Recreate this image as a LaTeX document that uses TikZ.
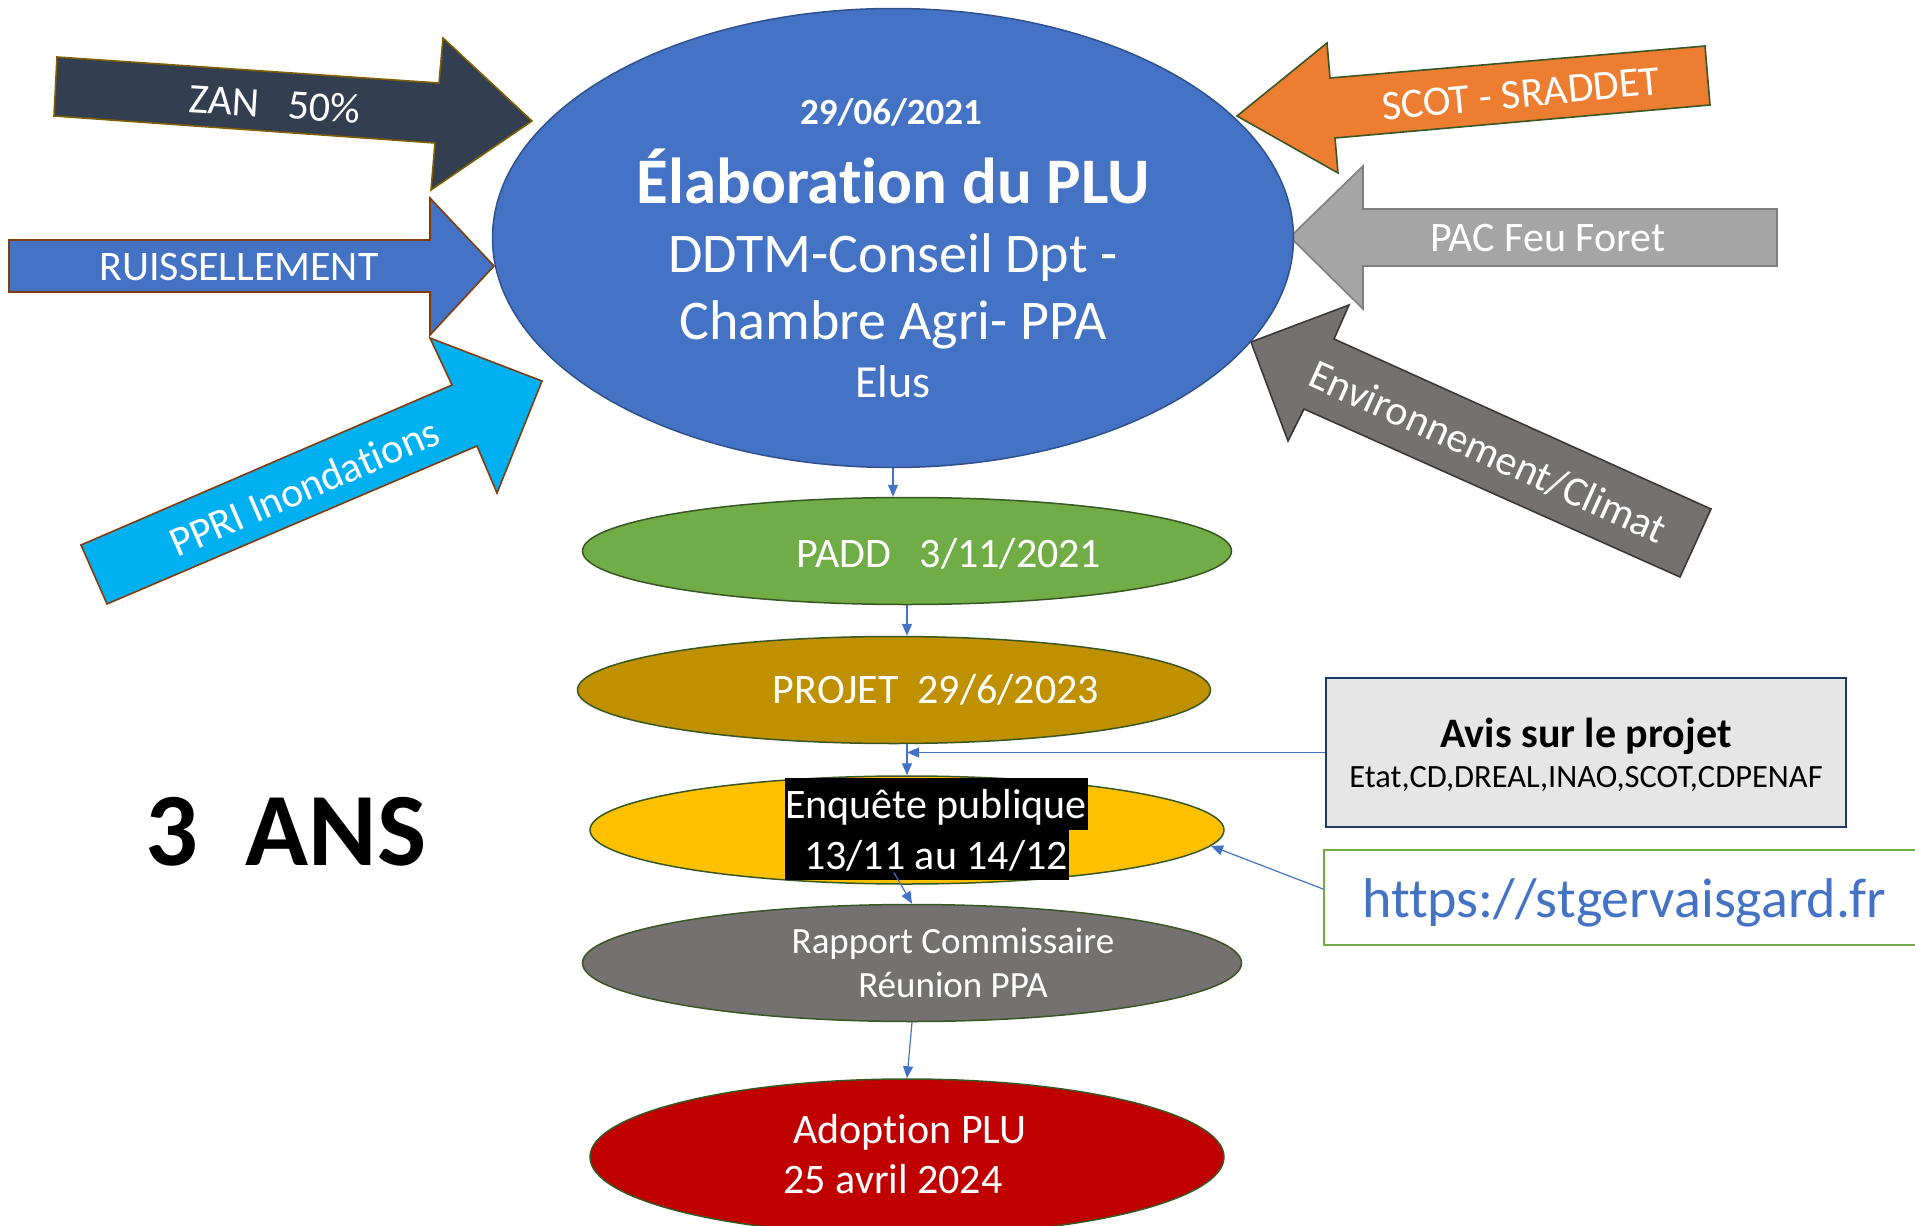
\documentclass[tikz,border=0pt]{standalone}
\usepackage{fontspec}
\setmainfont{Carlito}[Ligatures=NoCommon]
\usetikzlibrary{shapes.geometric, arrows.meta, positioning}

\definecolor{pluBlue}{HTML}{4472C4}
\definecolor{pluNavy}{HTML}{2F528F}
\definecolor{zanSlate}{HTML}{333F50}
\definecolor{zanEdge}{HTML}{7F6000}
\definecolor{rustEdge}{HTML}{843C0C}
\definecolor{ppriCyan}{HTML}{00B0F0}
\definecolor{scotOrange}{HTML}{ED7D31}
\definecolor{darkGreen}{HTML}{385723}
\definecolor{pacGrey}{HTML}{A5A5A5}
\definecolor{pacEdge}{HTML}{7F7F7F}
\definecolor{envGrey}{HTML}{767171}
\definecolor{envEdge}{HTML}{3B3838}
\definecolor{paddGreen}{HTML}{70AD47}
\definecolor{projGold}{HTML}{BF9000}
\definecolor{enqYellow}{HTML}{FFC000}
\definecolor{adoptRed}{HTML}{C00000}
\definecolor{avisGrey}{HTML}{E7E6E6}
\definecolor{avisEdge}{HTML}{1F3864}

\tikzset{
stage/.style={ellipse, draw=darkGreen, line width=1.5pt, inner sep=0pt}, % the phases of the PLU
link/.style={draw=pluBlue, line width=1.2pt, -{Triangle[length=12pt,width=10pt]}}, % thin blue connectors
block/.style={line width=1.6pt}, % the big arrows round the main ellipse
lbl/.style={text=white, inner sep=0pt},
f32/.style={font=\fontsize{32.5}{38}\selectfont},
f37/.style={font=\fontsize{37}{44}\selectfont},
f42/.style={font=\fontsize{42}{50}\selectfont},
}

\begin{document}
\begin{tikzpicture}[x=1pt, y=-1pt]
\useasboundingbox (0,0) rectangle (1915,1226);
\clip (0,0) rectangle (1915,1226);

% arrows coming in from the left
\filldraw[block, fill=zanSlate, draw=zanEdge] (57,57) -- (439,83) -- (443,38) -- (532,121) -- (431,190) -- (435,143) -- (54,116) -- cycle;
\filldraw[block, fill=pluBlue, draw=rustEdge] (9,240) -- (430,240) -- (430,198) -- (494,266) -- (430,335) -- (430,292) -- (9,292) -- cycle;
\filldraw[block, fill=ppriCyan, draw=rustEdge] (81,545) -- (452,385) -- (430,338) -- (542,381) -- (497,493) -- (477,446) -- (107,604) -- cycle;
\node[lbl, f42, rotate=-3.6] (zan) at (275,104) {ZAN\ \ \ 50\%};
\node[lbl, f42] (ruis) at (239,267) {RUISSELLEMENT};
\node[lbl, f42, rotate=23.5] (ppri) at (304,487) {PPRI Inondations};

% arrows coming in from the right
\filldraw[block, fill=scotOrange, draw=darkGreen] (1237,116) -- (1327,43) -- (1330,78) -- (1705,46) -- (1710,105) -- (1335,138) -- (1338,173) -- cycle;
\filldraw[block, fill=pacGrey, draw=pacEdge] (1290,237) -- (1363,166) -- (1363,209) -- (1777,209) -- (1777,266) -- (1363,266) -- (1363,309) -- cycle;
\filldraw[block, fill=envGrey, draw=envEdge] (1251,342) -- (1349,305) -- (1334,339) -- (1711,509) -- (1680,577) -- (1304,409) -- (1288,441) -- cycle;
\node[lbl, f42, rotate=5.5] (scot) at (1521,94) {SCOT - SRADDET};
\node[lbl, f42] (pac) at (1548,238) {PAC Feu Foret};
\node[lbl, f42, rotate=-24.3] (env) at (1488,452) {Environnement/Climat};

% main ellipse
\node[stage, fill=pluBlue, draw=pluNavy, minimum width=801pt, minimum height=459pt] (plu) at (893,238) {};
\node[lbl, anchor=base, font=\bfseries\fontsize{37}{44}\selectfont] (date) at (891,124) {29/06/2021};
\node[lbl, anchor=base, font=\bfseries\fontsize{65}{78}\selectfont] (titre) at (893,203) {Élaboration du PLU};
\node[lbl, anchor=base, font=\fontsize{56}{66}\selectfont] (ddtm) at (893,272) {DDTM-Conseil Dpt -};
\node[lbl, anchor=base, font=\fontsize{56}{66}\selectfont] (chambre) at (893,339) {Chambre Agri- PPA};
\node[lbl, anchor=base, font=\fontsize{46}{54}\selectfont] (elus) at (893,397) {Elus};

% phases
\node[stage, fill=paddGreen, minimum width=649pt, minimum height=107pt] (padd) at (907,551) {};
\node[stage, fill=projGold, minimum width=633pt, minimum height=107pt] (projet) at (894,690) {};
\node[stage, fill=enqYellow, minimum width=634pt, minimum height=108pt] (enq) at (907,830) {};
\node[stage, fill=envGrey, minimum width=659pt, minimum height=117pt] (rapport) at (912,963) {};
\node[stage, fill=adoptRed, minimum width=634pt, minimum height=156pt] (adopt) at (907,1157) {};

\node[lbl, f42, anchor=base] (paddtxt) at (949,567) {PADD\ \ \ 3/11/2021};
\node[lbl, f42, anchor=base] (projtxt) at (936,703) {PROJET\ \ 29/6/2023};
\fill[black] (785,778) rectangle (1088,830);
\fill[black] (785,830) rectangle (1069,880);
\node[lbl, f42, anchor=base] (enqa) at (936,818) {Enquête publique};
\node[lbl, f42, anchor=base] (enqb) at (936,869) {13/11 au 14/12};
\node[lbl, f37, anchor=base] (rapa) at (953,953) {Rapport Commissaire};
\node[lbl, f37, anchor=base] (rapb) at (953,997) {Réunion PPA};
\node[lbl, f42, anchor=base] (adopta) at (910,1143) {Adoption PLU};
\node[lbl, f42, anchor=base] (adoptb) at (893,1193) {25 avril 2024};

% boxes on the right
\node[draw=avisEdge, fill=avisGrey, line width=2pt, minimum width=520pt, minimum height=149pt] (avis) at (1586,752.5) {};
\node[anchor=base, font=\bfseries\fontsize{42}{50}\selectfont] (avisa) at (1586,747) {Avis sur le projet};
\node[anchor=base, f32] (avisb) at (1586,787) {Etat,CD,DREAL,INAO,SCOT,CDPENAF};
\node[draw=paddGreen, line width=2pt, minimum width=600pt, minimum height=95pt, text height=40pt, text depth=0pt, text=pluBlue, font=\fontsize{56}{66}\selectfont] (url) at (1624,897) {https://stgervaisgard.fr};

\node[font=\bfseries\fontsize{104}{120}\selectfont, anchor=base] (ans) at (286,865) {3\ \ ANS};

% connectors
\draw[link] (plu.south) -- (plu.south |- padd.north);
\draw[link] (padd.south) -- (padd.south |- projet.north);
\draw[link] (projet.south -| enq.north) -- (enq.north);
\draw[link] (avis.west) -- (avis.west -| enq.north);
\draw[link] ([yshift=8pt]url.west) -- (enq.-3);
\draw[link] ([xshift=-13pt,yshift=12pt]enq.south) -- (rapport.north);
\draw[link] (rapport.south) -- (adopt.north);
\end{tikzpicture}
\end{document}
